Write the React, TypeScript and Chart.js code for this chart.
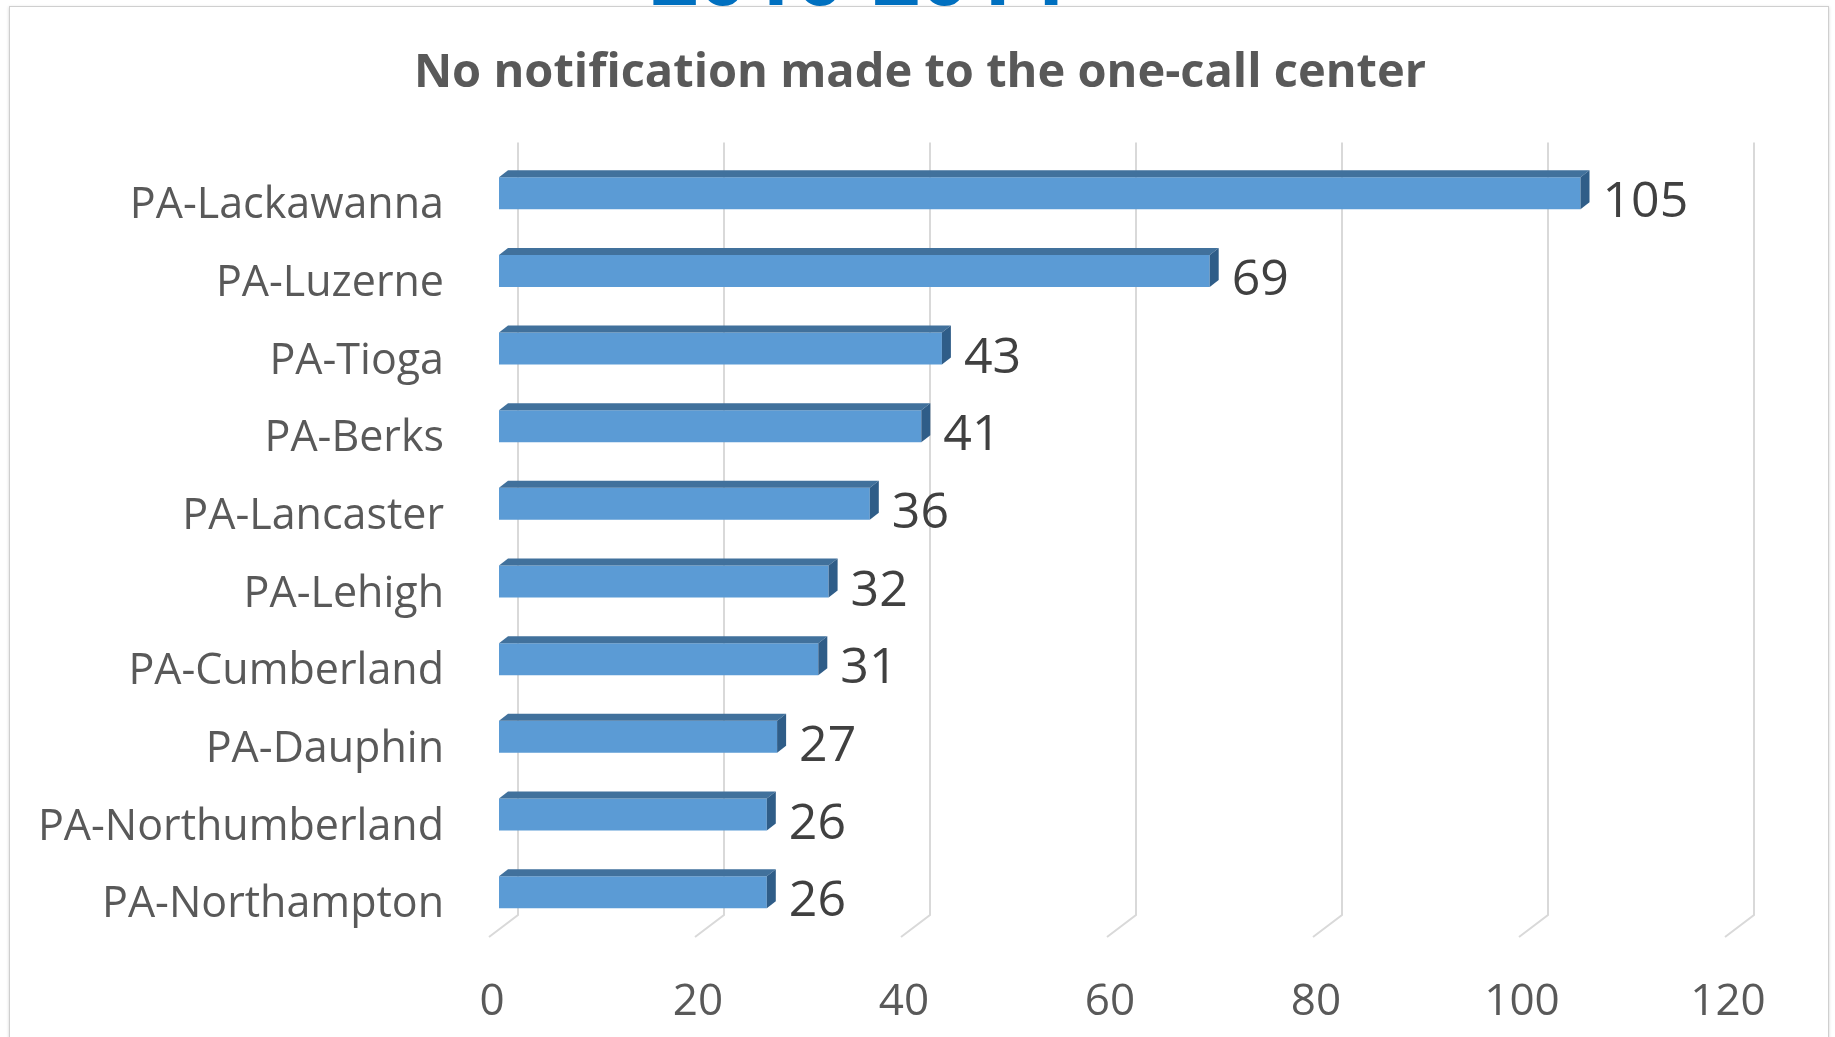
import React, { useEffect, useRef } from "react";
import { Chart, registerables } from "chart.js";

Chart.register(...registerables);

const categories = [
  "PA-Lackawanna",
  "PA-Luzerne",
  "PA-Tioga",
  "PA-Berks",
  "PA-Lancaster",
  "PA-Lehigh",
  "PA-Cumberland",
  "PA-Dauphin",
  "PA-Northumberland",
  "PA-Northampton",
];
const values = [105, 69, 43, 41, 36, 32, 31, 27, 26, 26];
const xMin = 0;
const xMax = 120;
const xStep = 20;
const chartTitle = "No notification made to the one-call center";
const pageHeading = "2010-2014";

const FONT = "'Open Sans', 'DejaVu Sans', sans-serif";
const FRONT = "#5B9BD5";
const TOP = "#41719C";
const SIDE = "#2F5D88";
const BAR_DX = 9;
const BAR_DY = 7;
const WALL_DX = 19;
const FLOOR_DX = 29;

const bar3dPlugin = {
  id: "bar3d",
  beforeDatasetsDraw(chart: any) {
    const { ctx, chartArea } = chart;
    const xs = chart.scales.x;
    ctx.save();
    ctx.strokeStyle = "#D9D9D9";
    ctx.lineWidth = 2;
    const top = chartArea.top - 12;
    const vBottom = chartArea.bottom - 16;
    const fBottom = chartArea.bottom + 6;
    xs.ticks.forEach((t: any) => {
      const px = xs.getPixelForValue(t.value) + WALL_DX;
      ctx.beginPath();
      ctx.moveTo(px, top);
      ctx.lineTo(px, vBottom);
      ctx.lineTo(px - FLOOR_DX, fBottom);
      ctx.stroke();
    });
    ctx.restore();
  },
  afterDatasetsDraw(chart: any) {
    const { ctx } = chart;
    const meta = chart.getDatasetMeta(0);
    ctx.save();
    meta.data.forEach((bar: any, i: number) => {
      const p = bar.getProps(["x", "y", "base", "height"], true);
      const yt = p.y - p.height / 2;
      const yb = p.y + p.height / 2;
      ctx.fillStyle = TOP;
      ctx.beginPath();
      ctx.moveTo(p.base, yt);
      ctx.lineTo(p.base + BAR_DX, yt - BAR_DY);
      ctx.lineTo(p.x + BAR_DX, yt - BAR_DY);
      ctx.lineTo(p.x, yt);
      ctx.closePath();
      ctx.fill();
      ctx.fillStyle = SIDE;
      ctx.beginPath();
      ctx.moveTo(p.x, yt);
      ctx.lineTo(p.x + BAR_DX, yt - BAR_DY);
      ctx.lineTo(p.x + BAR_DX, yb - BAR_DY);
      ctx.lineTo(p.x, yb);
      ctx.closePath();
      ctx.fill();
      ctx.fillStyle = "#404040";
      ctx.font = `50px ${FONT}`;
      ctx.textAlign = "left";
      ctx.textBaseline = "alphabetic";
      ctx.fillText(String(values[i]), p.x + 22, p.y + 24);
    });
    ctx.restore();
  },
};

function BarChart() {
  const ref = useRef<HTMLCanvasElement | null>(null);
  useEffect(() => {
    if (!ref.current) return;
    const chart = new Chart(ref.current, {
      type: "bar",
      data: {
        labels: categories,
        datasets: [
          {
            data: values,
            backgroundColor: FRONT,
            borderWidth: 0,
            barPercentage: 0.412,
            categoryPercentage: 1,
          },
        ],
      },
      plugins: [bar3dPlugin],
      options: {
        indexAxis: "y",
        responsive: false,
        animation: false,
        devicePixelRatio: 1,
        layout: { padding: { left: 5, right: 0, top: 0, bottom: 0 } },
        plugins: {
          legend: { display: false },
          tooltip: { enabled: false },
          title: {
            display: true,
            text: chartTitle,
            color: "#595959",
            font: { family: FONT, size: 47, weight: "bold" },
            padding: { top: 45, bottom: 53 },
          },
        },
        scales: {
          x: {
            type: "linear",
            position: "bottom",
            min: xMin,
            max: xMax,
            grid: { display: false, drawTicks: false, tickLength: 0 },
            border: { display: false },
            afterFit: (scale: any) => {
              scale.height = 106;
            },
            ticks: {
              stepSize: xStep,
              color: "#595959",
              font: { family: FONT, size: 44 },
              padding: 45,
              labelOffset: -7,
            },
          },
          y: {
            type: "category",
            position: "left",
            grid: { display: false, drawTicks: false, tickLength: 0 },
            border: { display: false },
            afterFit: (scale: any) => {
              scale.width = 494;
            },
            ticks: {
              color: "#595959",
              font: { family: FONT, size: 43 },
              padding: 55,
              labelOffset: 13,
              autoSkip: false,
            },
          },
          yRightSpace: {
            type: "linear",
            position: "right",
            display: true,
            grid: { display: false, drawTicks: false, tickLength: 0 },
            border: { display: false },
            ticks: { display: false },
            afterFit: (scale: any) => {
              scale.width = 100;
            },
          },
        },
      },
    } as any);
    return () => chart.destroy();
  }, []);
  return (
    <canvas
      ref={ref}
      width={1835}
      height={1037}
      style={{ position: "absolute", left: 0, top: 0, display: "block", zIndex: 3 }}
    />
  );
}

export default function App() {
  return (
    <div
      style={{
        position: "fixed",
        left: 0,
        top: 0,
        width: 1835,
        height: 1037,
        overflow: "hidden",
        background: "#ffffff",
      }}
    >
      <div
        style={{
          position: "absolute",
          left: 650,
          top: -70,
          fontFamily: FONT,
          fontWeight: 700,
          fontSize: 85,
          lineHeight: 1,
          color: "#0070C0",
          whiteSpace: "nowrap",
          zIndex: 1,
        }}
      >
        {pageHeading}
      </div>
      <div
        style={{
          position: "absolute",
          left: 9,
          top: 6,
          width: 1818,
          height: 1100,
          border: "1px solid #cfcfcf",
          boxShadow: "0 1px 3px rgba(0,0,0,0.18)",
          background: "#ffffff",
          zIndex: 2,
        }}
      />
      <BarChart />
    </div>
  );
}
